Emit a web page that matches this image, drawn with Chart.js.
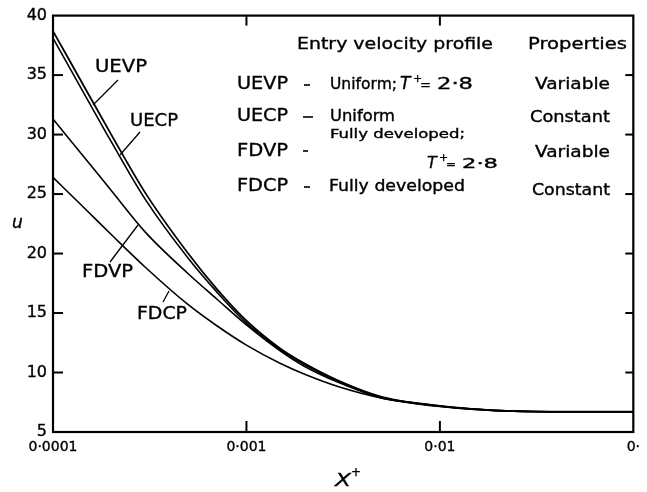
<!DOCTYPE html>
<html>
<head>
<meta charset="utf-8">
<script src="https://cdn.jsdelivr.net/npm/chart.js@4/dist/chart.umd.min.js"></script>
<style>
  html, body { margin: 0; padding: 0; background: #fff; }
  #wrap { width: 647px; height: 492px; position: relative; }
</style>
</head>
<body>
<div id="wrap"><canvas id="c"></canvas></div>
<script>
// ---- data ----
const xValues = [1e-4, 1.5e-4, 2e-4, 3e-4, 5e-4, 7e-4, 1e-3, 1.5e-3, 2e-3, 3e-3, 5e-3, 7e-3, 1e-2, 1.5e-2, 2e-2, 3e-2, 5e-2, 1e-1];
const uevp = [38.7, 33.6, 30.0, 25.1, 20.0, 17.05, 14.35, 12.0, 10.75, 9.3, 7.95, 7.5, 7.18, 6.92, 6.8, 6.72, 6.7, 6.7];
const uecp = [38.1, 33.0, 29.4, 24.55, 19.6, 16.8, 14.15, 11.9, 10.65, 9.25, 7.9, 7.48, 7.17, 6.92, 6.8, 6.72, 6.7, 6.7];
const fdvp = [31.3, 27.8, 25.3, 21.8, 18.3, 16.2, 14.0, 11.8, 10.5, 9.15, 7.85, 7.45, 7.15, 6.9, 6.8, 6.72, 6.7, 6.7];
const fdcp = [26.4, 23.6, 21.6, 18.85, 15.7, 13.95, 12.3, 10.75, 9.85, 8.8, 7.85, 7.5, 7.2, 6.93, 6.8, 6.72, 6.7, 6.7];
const seriesNames = ['UEVP', 'UECP', 'FDVP', 'FDCP'];
const xTickValues = [1e-4, 1e-3, 1e-2, 1e-1];
const xTickLabels = ['0·0001', '0·001', '0·01', '0·'];
const yTickValues = [5, 10, 15, 20, 25, 30, 35, 40];
const xTitle = 'X';
const yTitle = 'u';
const legendHeader = ['Entry velocity profile', 'Properties'];
const legendProfiles = ['Uniform;', 'Uniform', 'Fully developed;', 'Fully developed'];
const legendProps = ['Variable', 'Constant', 'Variable', 'Constant'];

const FONT = '"DejaVu Sans", "Liberation Sans", sans-serif';
Chart.defaults.font.family = FONT;
Chart.defaults.color = '#000';

function pts(arr) { return xValues.map((x, i) => ({ x: x, y: arr[i] })); }

// draw text starting at x, vertically centred on y, stretched horizontally to width w
function txt(ctx, s, x, y, size, w, opts) {
  opts = opts || {};
  ctx.save();
  ctx.font = (opts.italic ? 'italic ' : '') + size + 'px ' + FONT;
  ctx.fillStyle = '#000';
  ctx.strokeStyle = '#000';
  ctx.lineWidth = 0.35;
  ctx.textBaseline = 'middle';
  ctx.textAlign = 'left';
  let sx = 1;
  if (w) {
    const m = ctx.measureText(s).width;
    sx = w / m;
  }
  ctx.translate(x, y);
  ctx.scale(sx, 1);
  ctx.fillText(s, 0, 0);
  ctx.strokeText(s, 0, 0);
  ctx.restore();
}
function line(ctx, x1, y1, x2, y2, lw) {
  ctx.save();
  ctx.strokeStyle = '#000';
  ctx.lineWidth = lw || 1.3;
  ctx.beginPath(); ctx.moveTo(x1, y1); ctx.lineTo(x2, y2); ctx.stroke();
  ctx.restore();
}

const decor = {
  id: 'decor',
  afterDraw(chart) {
    const ctx = chart.ctx, a = chart.chartArea;
    const xs = chart.scales.x, ys = chart.scales.y;
    // frame
    ctx.save();
    ctx.strokeStyle = '#000';
    ctx.lineWidth = 2.2;
    ctx.strokeRect(a.left, a.top, a.right - a.left, a.bottom - a.top);
    ctx.restore();
    // inward ticks
    yTickValues.forEach(v => {
      const y = ys.getPixelForValue(v);
      if (v !== 5 && v !== 40) {
        line(ctx, a.left, y, a.left + 10, y, 2);
        line(ctx, a.right, y, a.right - 8, y, 2);
      }
    });
    [1e-3, 1e-2].forEach(v => {
      const x = xs.getPixelForValue(v);
      line(ctx, x, a.bottom, x, a.bottom - 11, 2);
      line(ctx, x, a.top, x, a.top + 10, 2);
    });
    // axis titles
    txt(ctx, yTitle, 12, 224, 17, null, { italic: true });
    txt(ctx, xTitle, 335, 481, 18, 16, { italic: true });
    txt(ctx, '+', 351, 473, 12);
    // curve labels with leader lines
    txt(ctx, seriesNames[0], 95, 68, 17, 52);
    line(ctx, 118, 80, 93, 105);
    txt(ctx, seriesNames[1], 130, 122, 17, 48);
    line(ctx, 140, 132, 120, 155);
    txt(ctx, seriesNames[2], 82, 273, 17, 51);
    line(ctx, 138, 225, 110, 262);
    txt(ctx, seriesNames[3], 137, 315, 17, 50);
    line(ctx, 169, 291, 163, 302);
    // legend table
    txt(ctx, legendHeader[0], 297, 45, 16, 196);
    txt(ctx, legendHeader[1], 528, 45, 16, 99);
    const rowsY = [85, 117, 152, 187];
    rowsY.forEach((y, i) => txt(ctx, seriesNames[i], 237, y, 17, 51));
    line(ctx, 304, 85, 310, 85, 1.6);
    line(ctx, 303, 117, 313, 117, 1.6);
    line(ctx, 303, 151, 308, 151, 1.6);
    line(ctx, 304, 187, 310, 187, 1.6);
    // row 1
    txt(ctx, legendProfiles[0], 330, 85, 15, 67);
    txt(ctx, 'T', 400, 85, 17, null, { italic: true });
    txt(ctx, '+', 413, 79, 11);
    txt(ctx, '=', 420, 86, 13);
    txt(ctx, '2·8', 437, 85, 15, 36);
    // row 2
    txt(ctx, legendProfiles[1], 330, 117, 15, 65);
    // row 3
    txt(ctx, legendProfiles[2], 330, 135, 12, 135);
    txt(ctx, 'T', 427, 164, 16, null, { italic: true });
    txt(ctx, '+', 439, 158, 11);
    txt(ctx, '=', 446, 165, 12);
    txt(ctx, '2·8', 462, 164, 14, 36);
    // row 4
    txt(ctx, legendProfiles[3], 329, 187, 15, 136);
    // properties
    const propY = [85, 118, 153, 191];
    const propX = [535, 530, 535, 532];
    const propW = [75, 80, 75, 78];
    legendProps.forEach((s, i) => txt(ctx, s, propX[i], propY[i], 15, propW[i]));
  }
};

const widths = [1.8, 1.6, 1.6, 1.6];

new Chart(document.getElementById('c'), {
  type: 'scatter',
  data: {
    datasets: [uevp, uecp, fdvp, fdcp].map((arr, i) => ({
      label: seriesNames[i],
      data: pts(arr),
      showLine: true,
      borderColor: '#000',
      backgroundColor: '#000',
      borderWidth: widths[i],
      pointRadius: 0,
      cubicInterpolationMode: 'monotone'
    }))
  },
  options: {
    responsive: true,
    maintainAspectRatio: false,
    animation: false,
    layout: { padding: { top: 14, right: 7, left: 0, bottom: 0 } },
    plugins: { legend: { display: false }, tooltip: { enabled: false } },
    scales: {
      x: {
        type: 'logarithmic',
        min: 1e-4, max: 1e-1,
        grid: { display: false, drawTicks: false },
        border: { display: false },
        afterBuildTicks: s => { s.ticks = xTickValues.map(v => ({ value: v })); },
        afterFit: s => { s.height = 60; },
        ticks: {
          autoSkip: false, maxRotation: 0, padding: 7,
          font: { size: 14 },
          color: '#000', textStrokeColor: '#000', textStrokeWidth: 0.35,
          callback: (v) => { const i = xTickValues.findIndex(t => Math.abs(Math.log10(t) - Math.log10(v)) < 1e-6); return i >= 0 ? xTickLabels[i] : ''; }
        }
      },
      y: {
        min: 5, max: 40,
        grid: { display: false, drawTicks: false },
        border: { display: false },
        afterBuildTicks: s => { s.ticks = yTickValues.map(v => ({ value: v })); },
        afterFit: s => { s.width = 53; },
        ticks: { padding: 6, font: { size: 16 }, color: '#000', textStrokeColor: '#000', textStrokeWidth: 0.35 }
      }
    }
  },
  plugins: [decor]
});
</script>
</body>
</html>
